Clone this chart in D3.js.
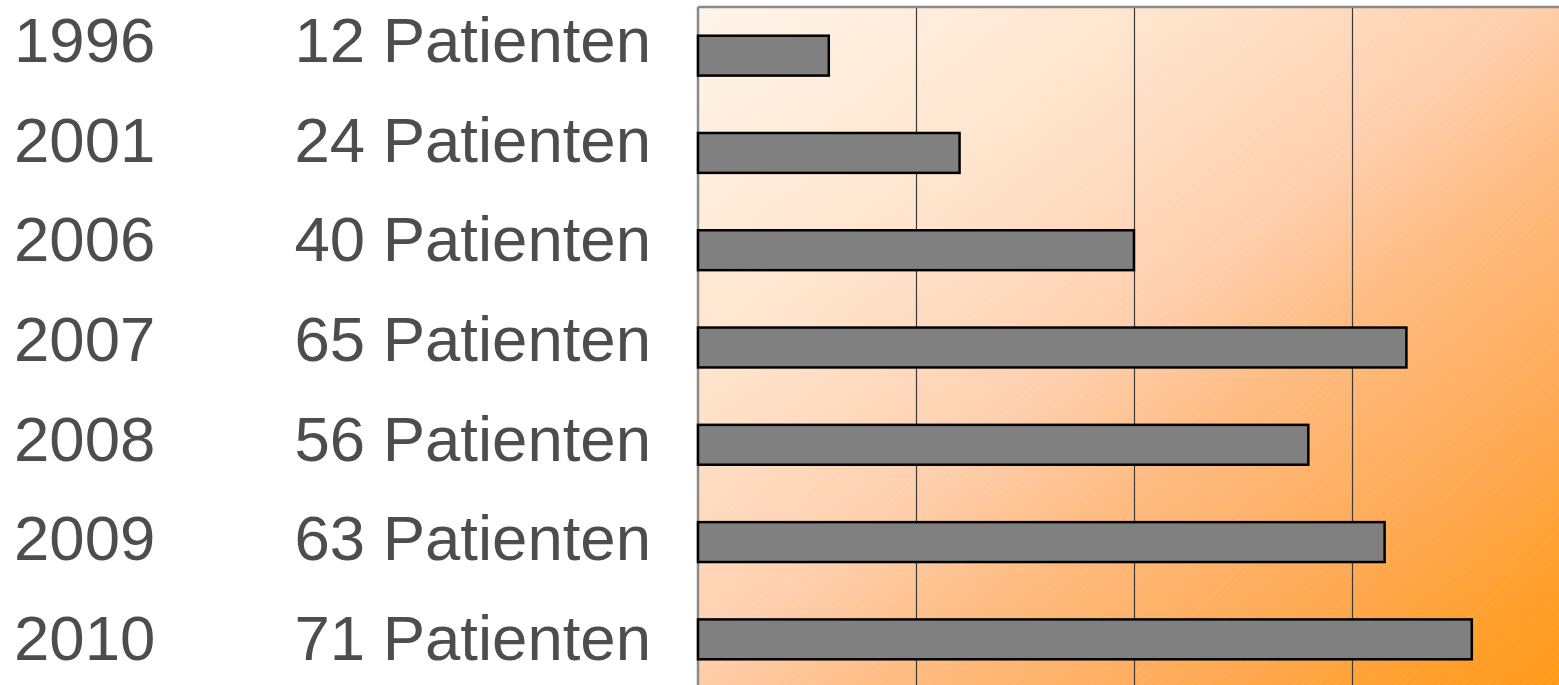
<!DOCTYPE html>
<html>
<head>
<meta charset="utf-8">
<script src="https://cdn.jsdelivr.net/npm/d3@7"></script>
<style>
html,body{margin:0;padding:0;background:#fff;overflow:hidden}
svg{display:block}
</style>
</head>
<body>
<svg id="chart" width="1559" height="685"></svg>
<script>
const years = ["1996","2001","2006","2007","2008","2009","2010"];
const patients = [12, 24, 40, 65, 56, 63, 71];
const labelSuffix = "Patienten";
const gridTicks = [20, 40, 60];

const W = 1559, H = 685;
const svg = d3.select("#chart");
const plot = {left: 698, top: 7, right: 1559, bottom: 688};

const x = d3.scaleLinear().domain([0, 79]).range([plot.left, plot.right]);
const y = d3.scaleBand().domain(years).range([plot.top, plot.bottom]).paddingInner(0.59).paddingOuter(0.295);
const yText = d3.scalePoint().domain(years).range([62, 660]);

const defs = svg.append("defs");
const grad = defs.append("linearGradient").attr("id","bg")
  .attr("x1", 0).attr("y1", 0).attr("x2", 1).attr("y2", 1);
[[0,"#fff5ea"],[0.28,"#ffe4cc"],[0.48,"#ffcfae"],[0.61,"#ffbb80"],[0.8,"#ffa850"],[0.92,"#ff9e28"],[1,"#ff9a18"]]
  .forEach(s => grad.append("stop").attr("offset", s[0]).attr("stop-color", s[1]));

const pat = defs.append("pattern").attr("id","hatch").attr("patternUnits","userSpaceOnUse")
  .attr("width",6).attr("height",6).attr("patternTransform","rotate(45)");
pat.append("line").attr("x1",0).attr("y1",0).attr("x2",0).attr("y2",6)
  .attr("stroke","#fff").attr("stroke-width",1).attr("stroke-opacity",0.16);

svg.append("rect").attr("x",plot.left).attr("y",plot.top)
  .attr("width",W-plot.left).attr("height",H-plot.top).attr("fill","url(#bg)");
svg.append("rect").attr("x",plot.left).attr("y",plot.top)
  .attr("width",W-plot.left).attr("height",H-plot.top).attr("fill","url(#hatch)");

// gridlines
svg.append("g").selectAll("line").data(gridTicks).join("line")
  .attr("x1",d=>Math.round(x(d))+0.5).attr("x2",d=>Math.round(x(d))+0.5)
  .attr("y1",plot.top).attr("y2",H)
  .attr("stroke","#3a3a3a").attr("stroke-width",1.2);

// border (left and top)
svg.append("line").attr("x1",plot.left).attr("x2",W).attr("y1",plot.top).attr("y2",plot.top)
  .attr("stroke","#8a8a8a").attr("stroke-width",2.5);
svg.append("line").attr("x1",plot.left).attr("x2",plot.left).attr("y1",plot.top).attr("y2",H)
  .attr("stroke","#8a8a8a").attr("stroke-width",2.5);

// bars
svg.append("g").selectAll("rect").data(years).join("rect")
  .attr("x", x(0))
  .attr("y", d => y(d))
  .attr("width", (d,i) => x(patients[i]) - x(0))
  .attr("height", y.bandwidth())
  .attr("fill","#808080")
  .attr("stroke","#000").attr("stroke-width",2.5);

// labels
const font = "'Liberation Sans', Arial, Helvetica, sans-serif";
const lab = svg.append("g").attr("font-family", font).attr("font-size", 63.5).attr("fill","#4d4d4d");
lab.selectAll("text.year").data(years).join("text").attr("class","year")
  .attr("x", 14).attr("y", d => yText(d)).text(d => d);
lab.selectAll("text.val").data(years).join("text").attr("class","val")
  .attr("x", 651).attr("text-anchor","end").attr("y", d => yText(d))
  .text((d,i) => patients[i] + " " + labelSuffix);
</script>
</body>
</html>
